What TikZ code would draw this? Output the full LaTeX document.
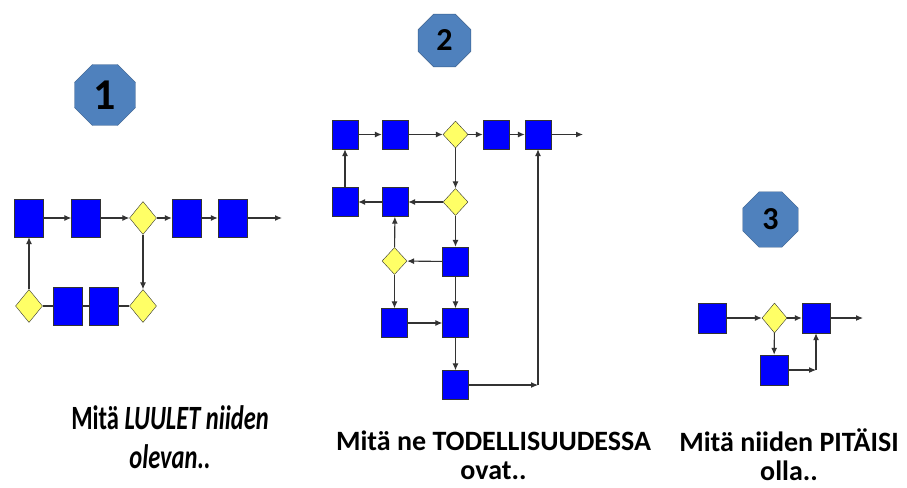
\documentclass[tikz,border=0pt]{standalone}
\usepackage{fontspec}
\setmainfont{Carlito}
\usepackage{graphicx}
\usetikzlibrary{arrows.meta,shapes.geometric}

\definecolor{boxblue}{RGB}{0,0,255}
\definecolor{gateyellow}{RGB}{255,255,102}
\definecolor{badgefill}{RGB}{79,129,189}
\definecolor{badgeline}{RGB}{56,93,138}

\tikzset{
  badge/.style={regular polygon,regular polygon sides=8,draw=badgeline,
    fill=badgefill,inner sep=0pt,font=\bfseries},
  flowline/.style={draw=black!80,line width=1.1pt},
  flowarrow/.style={flowline,-{Latex[length=7pt,width=6pt]}},
  caption/.style={align=center,font=\bfseries}
}

\begin{document}
\begin{tikzpicture}[x=1pt,y=-1pt]
  \useasboundingbox (0,0) rectangle (907,487);

  % badges
  \node[badge,minimum size=66pt,font=\fontsize{44}{44}\bfseries] (n1) at (105,95) {1};
  \node[badge,minimum size=57pt,font=\fontsize{32}{32}\bfseries] (n2) at (444.5,40.5) {2};
  \node[badge,minimum size=60pt,font=\fontsize{32}{32}\bfseries] (n3) at (770.5,219.5) {3};

  % ---- first chart ----
  \begin{scope}[every node/.style={rectangle,draw=black!80,fill=boxblue,
      minimum width=29pt,minimum height=38pt,inner sep=0pt}]
    \node (p1) at (29,218) {};
    \node (p2) at (86,218) {};
    \node (p4) at (186.5,218) {};
    \node (p5) at (232.5,218) {};
    \node (p6) at (67.5,306) {};
    \node (p7) at (104,306) {};
  \end{scope}
  \begin{scope}[every node/.style={diamond,draw=black!80,fill=gateyellow,
      minimum width=27pt,minimum height=33pt,inner sep=0pt}]
    \node (pd1) at (143,218) {};
    \node (pd2) at (29,306) {};
    \node (pd3) at (143,306) {};
  \end{scope}
  \coordinate (pout) at (282,218);

  \begin{scope}[every edge/.style={flowarrow}]
    \path (p1)  edge (p2);
    \path (p2)  edge (pd1);
    \path (pd1) edge (p4);
    \path (p4)  edge (p5);
    \path (p5)  edge (pout);
    \path (pd2) edge (p1);
    \path (pd1) edge (pd3);
  \end{scope}
  \begin{scope}[every edge/.style={flowline}]
    \path (pd2) edge (p6);
    \path (p6)  edge (p7);
    \path (p7)  edge (pd3);
  \end{scope}

  % ---- second chart ----
  \begin{scope}[every node/.style={rectangle,draw=black!80,fill=boxblue,
      minimum width=26pt,minimum height=29pt,inner sep=0pt}]
    \node (a1) at (345,134.5) {};
    \node (a2) at (395,134.5) {};
    \node (a4) at (496,134.5) {};
    \node (a5) at (538,134.5) {};
    \node (b1) at (345,202) {};
    \node (b2) at (395,202) {};
    \node (c2) at (455.5,261.5) {};
    \node (e1) at (394.5,323) {};
    \node (e2) at (455.5,323) {};
    \node (f1) at (455.5,385) {};
  \end{scope}
  \begin{scope}[every node/.style={diamond,draw=black!80,fill=gateyellow,
      minimum width=25pt,minimum height=27pt,inner sep=0pt}]
    \node (ad) at (455.5,134.5) {};
    \node (bd) at (455.5,202) {};
    \node (cd) at (394.5,261) {};
  \end{scope}
  \coordinate (aout) at (583,134.5);
  \coordinate (fturn) at (538,385);

  \begin{scope}[every edge/.style={flowarrow}]
    \path (a1) edge (a2);
    \path (a2) edge (ad);
    \path (ad) edge (a4);
    \path (a4) edge (a5);
    \path (a5) edge (aout);
    \path (ad) edge (bd);
    \path (bd) edge (b2);
    \path (b2) edge (b1);
    \path (b1) edge (a1);
    \path (bd) edge (c2);
    \path (c2) edge (cd);
    \path (cd) edge (b2);
    \path (cd) edge (e1);
    \path (e1) edge (e2);
    \path (c2) edge (e2);
    \path (e2) edge (f1);
    \path (f1) edge (fturn);
    \path (fturn) edge (a5);
  \end{scope}

  % ---- third chart ----
  \begin{scope}[every node/.style={rectangle,draw=black!80,fill=boxblue,
      minimum width=28pt,minimum height=30pt,inner sep=0pt}]
    \node (s1) at (712,318) {};
    \node (s2) at (816,318) {};
    \node (s3) at (774,370) {};
  \end{scope}
  \node[diamond,draw=black!80,fill=gateyellow,minimum width=25pt,
    minimum height=30pt,inner sep=0pt] (sd) at (774.5,318) {};
  \coordinate (sout) at (863,318);
  \coordinate (sturn) at (816,370);

  \begin{scope}[every edge/.style={flowarrow}]
    \path (s1) edge (sd);
    \path (sd) edge (s2);
    \path (s2) edge (sout);
    \path (sd) edge (s3);
    \path (s3) edge (sturn);
    \path (sturn) edge (s2);
  \end{scope}

  % captions
  \node[caption,font=\fontsize{34}{39}\bfseries] (t1) at (170,437)
    {\scalebox{0.72}[1]{Mitä \textit{LUULET niiden}}\\
     \scalebox{0.72}[1]{\textit{olevan..}}};
  \node[caption,font=\fontsize{28}{29}\bfseries] (t2) at (493.5,455)
    {Mitä ne TODELLISUUDESSA\\ovat..};
  \node[caption,font=\fontsize{28}{29}\bfseries] (t3) at (789,455)
    {Mitä niiden PITÄISI\\olla..};
\end{tikzpicture}
\end{document}
